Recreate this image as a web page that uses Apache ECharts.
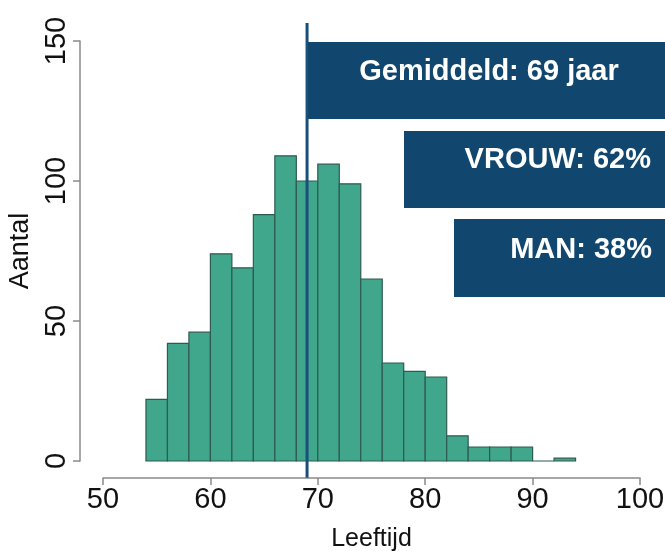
<!DOCTYPE html>
<html>
<head>
<meta charset="utf-8">
<script src="https://cdn.jsdelivr.net/npm/echarts@6/dist/echarts.min.js"></script>
<style>
html,body{margin:0;padding:0;background:#fff;}
#chart{width:665px;height:551px;}
</style>
</head>
<body>
<div id="chart"></div>
<script>
// Histogram bins (age, width 2) and counts
const binStarts = [54,56,58,60,62,64,66,68,70,72,74,76,78,80,82,84,86,88,90,92];
const binWidth = 2;
const counts = [22,42,46,74,69,88,109,100,106,99,65,35,32,30,9,5,5,5,0,1];
const meanAge = 69;
const meanLineRange = [-6, 156.4];
const xTicks = [50,60,70,80,90,100];
const yTicks = [0,50,100,150];
const infoTexts = ['Gemiddeld: 69 jaar', 'VROUW: 62%', 'MAN: 38%'];

const histData = binStarts.map((s, i) => [s, s + binWidth, counts[i]]);

const chart = echarts.init(document.getElementById('chart'), null, {renderer: 'canvas'});
const axisGray = '#8a8a8a';
const font = 'Liberation Sans, Arial, sans-serif';

chart.setOption({
  animation: false,
  backgroundColor: '#ffffff',
  grid: {left: 103, right: 25, top: 41, bottom: 90, containLabel: false, outerBoundsMode: 'none'},
  xAxis: {
    type: 'value', min: xTicks[0], max: xTicks[xTicks.length-1], interval: 10,
    offset: 17,
    name: 'Leeftijd', nameLocation: 'middle', nameGap: 49,
    nameTextStyle: {fontSize: 25, color: '#111', fontFamily: font},
    axisLine: {show: true, onZero: false, lineStyle: {color: axisGray, width: 1.5}},
    axisTick: {show: true, length: 7, lineStyle: {color: axisGray, width: 1.5}},
    axisLabel: {fontSize: 29, color: '#111', fontFamily: font, margin: 7, showMaxLabel: true, showMinLabel: true},
    splitLine: {show: false}
  },
  yAxis: {
    type: 'value', min: yTicks[0], max: yTicks[yTicks.length-1], interval: 50,
    offset: 23,
    name: 'Aantal', nameLocation: 'middle', nameGap: 45, nameRotate: 90,
    nameTextStyle: {fontSize: 27, color: '#111', fontFamily: font},
    axisLine: {show: true, onZero: false, lineStyle: {color: axisGray, width: 1.5}},
    axisTick: {show: true, length: 7, lineStyle: {color: axisGray, width: 1.5}},
    axisLabel: {fontSize: 29, color: '#111', fontFamily: font, rotate: 90, margin: 9},
    splitLine: {show: false}
  },
  series: [
    {
      type: 'custom',
      data: histData,
      clip: false,
      renderItem: function (params, api) {
        const x0 = api.value(0), x1 = api.value(1), c = api.value(2);
        const p0 = api.coord([x0, c]);
        const p1 = api.coord([x1, 0]);
        return {
          type: 'rect',
          shape: {x: p0[0], y: p0[1], width: p1[0] - p0[0], height: p1[1] - p0[1]},
          style: {fill: '#40a68c', stroke: '#2f5a51', lineWidth: 1.2}
        };
      }
    },
    {
      type: 'custom',
      data: [[meanAge, meanLineRange[0], meanLineRange[1]]],
      clip: false,
      z: 5,
      renderItem: function (params, api) {
        const a = api.coord([api.value(0), api.value(1)]);
        const b = api.coord([api.value(0), api.value(2)]);
        return {
          type: 'line',
          shape: {x1: a[0], y1: a[1], x2: b[0], y2: b[1]},
          style: {stroke: '#1a4f7c', lineWidth: 3}
        };
      }
    }
  ],
  graphic: [
    {type: 'rect', shape: {x: 308, y: 42, width: 357, height: 77}, style: {fill: '#11476e'}, z: 10},
    {type: 'text', x: 489, y: 72, z: 11, style: {text: infoTexts[0], fill: '#fff', font: 'bold 29px ' + font, textAlign: 'center', textVerticalAlign: 'middle'}},
    {type: 'rect', shape: {x: 404, y: 131, width: 261, height: 77}, style: {fill: '#11476e'}, z: 10},
    {type: 'text', x: 651, y: 160, z: 11, style: {text: infoTexts[1], fill: '#fff', font: 'bold 29px ' + font, textAlign: 'right', textVerticalAlign: 'middle'}},
    {type: 'rect', shape: {x: 454, y: 219, width: 211, height: 78}, style: {fill: '#11476e'}, z: 10},
    {type: 'text', x: 652, y: 250, z: 11, style: {text: infoTexts[2], fill: '#fff', font: 'bold 29px ' + font, textAlign: 'right', textVerticalAlign: 'middle'}}
  ]
});
</script>
</body>
</html>
